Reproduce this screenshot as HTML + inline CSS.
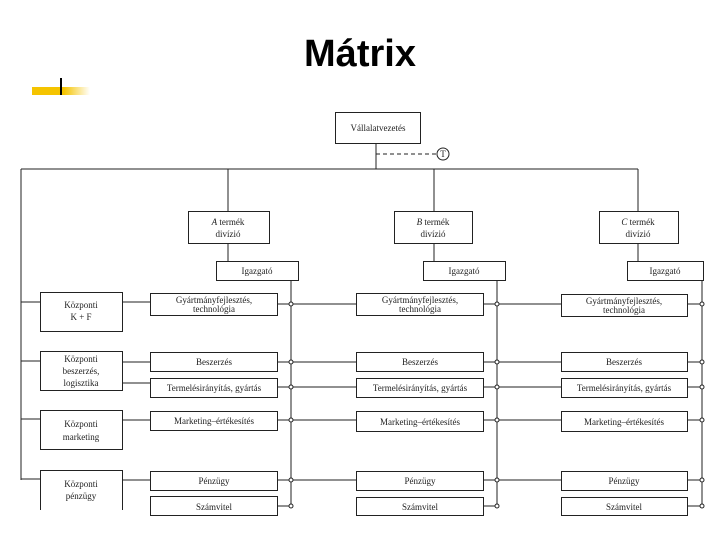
<!DOCTYPE html>
<html><head><meta charset="utf-8"><style>
html,body{margin:0;padding:0;background:#fff;}
svg{display:block}
.t{font-family:"Liberation Serif",serif;font-size:9px;fill:#222;text-anchor:middle}
</style></head><body>
<svg width="720" height="540" viewBox="0 0 720 540" xmlns="http://www.w3.org/2000/svg">
<defs><linearGradient id="g" x1="0" x2="1"><stop offset="0.55" stop-color="#f5c400"/><stop offset="1" stop-color="#f5c400" stop-opacity="0"/></linearGradient></defs>
<text x="360" y="66" text-anchor="middle" font-family="Liberation Sans,sans-serif" font-weight="bold" font-size="38" fill="#000">Mátrix</text>
<rect x="32" y="87" width="58" height="8" fill="url(#g)"/>
<rect x="60" y="78" width="2" height="17" fill="#000"/>
<g stroke="#222" stroke-width="1" fill="none">
<rect x="335.5" y="112.5" width="85" height="31"/>
<line x1="376" y1="143" x2="376" y2="169"/>
<line x1="376" y1="154" x2="436" y2="154" stroke-dasharray="4,3"/>
<circle cx="443" cy="154" r="6"/>
<line x1="21" y1="169" x2="638" y2="169"/>
<line x1="21" y1="169" x2="21" y2="480"/>
<line x1="228" y1="169" x2="228" y2="211"/><line x1="228" y1="243" x2="228" y2="261"/>
<line x1="434" y1="169" x2="434" y2="211"/><line x1="434" y1="243" x2="434" y2="261"/>
<line x1="638" y1="169" x2="638" y2="211"/><line x1="638" y1="243" x2="638" y2="261"/>
<rect x="188.5" y="211.5" width="81" height="32"/>
<rect x="394.5" y="211.5" width="78" height="32"/>
<rect x="599.5" y="211.5" width="79" height="32"/>
<rect x="216.5" y="261.5" width="82" height="19"/>
<rect x="423.5" y="261.5" width="82" height="19"/>
<rect x="627.5" y="261.5" width="76" height="19"/>
<line x1="291" y1="280" x2="291" y2="506"/>
<line x1="497" y1="280" x2="497" y2="506"/>
<line x1="702" y1="280" x2="702" y2="506"/>
<rect x="40.5" y="292.5" width="82" height="39"/>
<rect x="40.5" y="351.5" width="82" height="39"/>
<rect x="40.5" y="410.5" width="82" height="39"/>
<path d="M40.5 510 V470.5 H122.5 V510"/>
<line x1="21" y1="302" x2="40" y2="302"/>
<line x1="21" y1="361" x2="40" y2="361"/>
<line x1="21" y1="419" x2="40" y2="419"/>
<line x1="21" y1="479" x2="40" y2="479"/>
<line x1="122" y1="302" x2="150" y2="302"/>
<line x1="122" y1="362" x2="150" y2="362"/>
<line x1="122" y1="383" x2="150" y2="383"/>
<line x1="122" y1="420" x2="150" y2="420"/>
<line x1="122" y1="480" x2="150" y2="480"/>
<g>
<rect x="150.5" y="293.5" width="127" height="22"/><rect x="356.5" y="293.5" width="127" height="22"/><rect x="561.5" y="294.5" width="126" height="22"/>
<rect x="150.5" y="352.5" width="127" height="19"/><rect x="356.5" y="352.5" width="127" height="19"/><rect x="561.5" y="352.5" width="126" height="19"/>
<rect x="150.5" y="378.5" width="127" height="19"/><rect x="356.5" y="378.5" width="127" height="19"/><rect x="561.5" y="378.5" width="126" height="19"/>
<rect x="150.5" y="411.5" width="127" height="19"/><rect x="356.5" y="411.5" width="127" height="20"/><rect x="561.5" y="411.5" width="126" height="20"/>
<rect x="150.5" y="471.5" width="127" height="19"/><rect x="356.5" y="471.5" width="127" height="19"/><rect x="561.5" y="471.5" width="126" height="19"/>
<rect x="150.5" y="496.5" width="127" height="19"/><rect x="356.5" y="497.5" width="127" height="18"/><rect x="561.5" y="497.5" width="126" height="18"/>
</g>
<g>
<path d="M277 304H356 M484 304H561 M687 304H702"/>
<path d="M277 362H356 M484 362H561 M687 362H702"/>
<path d="M277 387H356 M484 387H561 M687 387H702"/>
<path d="M277 420H356 M484 420H561 M687 420H702"/>
<path d="M277 480H356 M484 480H561 M687 480H702"/>
<path d="M277 506H291 M484 506H497 M687 506H702"/>
</g>
<g fill="#fff">
<circle cx="291" cy="304" r="2"/><circle cx="497" cy="304" r="2"/><circle cx="702" cy="304" r="2"/>
<circle cx="291" cy="362" r="2"/><circle cx="497" cy="362" r="2"/><circle cx="702" cy="362" r="2"/>
<circle cx="291" cy="387" r="2"/><circle cx="497" cy="387" r="2"/><circle cx="702" cy="387" r="2"/>
<circle cx="291" cy="420" r="2"/><circle cx="497" cy="420" r="2"/><circle cx="702" cy="420" r="2"/>
<circle cx="291" cy="480" r="2"/><circle cx="497" cy="480" r="2"/><circle cx="702" cy="480" r="2"/>
<circle cx="291" cy="506" r="2"/><circle cx="497" cy="506" r="2"/><circle cx="702" cy="506" r="2"/>
</g>
</g>
<text class="t" x="443" y="157" font-size="8">T</text>
<text class="t" x="378" y="131">Vállalatvezetés</text>
<text class="t" x="228" y="225"><tspan font-style="italic">A</tspan> termék</text><text class="t" x="228" y="237">divízió</text>
<text class="t" x="433" y="225"><tspan font-style="italic">B</tspan> termék</text><text class="t" x="433" y="237">divízió</text>
<text class="t" x="638" y="225"><tspan font-style="italic">C</tspan> termék</text><text class="t" x="638" y="237">divízió</text>
<text class="t" x="257" y="274">Igazgató</text><text class="t" x="464" y="274">Igazgató</text><text class="t" x="665" y="274">Igazgató</text>
<text class="t" x="81" y="308">Központi</text><text class="t" x="81" y="320">K + F</text>
<text class="t" x="81" y="362">Központi</text><text class="t" x="81" y="374">beszerzés,</text><text class="t" x="81" y="386">logisztika</text>
<text class="t" x="81" y="427">Központi</text><text class="t" x="81" y="440">marketing</text>
<text class="t" x="81" y="487">Központi</text><text class="t" x="81" y="499">pénzügy</text>
<g>
<text class="t" x="214" y="303">Gyártmányfejlesztés,</text><text class="t" x="214" y="312">technológia</text>
<text class="t" x="420" y="303">Gyártmányfejlesztés,</text><text class="t" x="420" y="312">technológia</text>
<text class="t" x="624" y="304">Gyártmányfejlesztés,</text><text class="t" x="624" y="313">technológia</text>
<text class="t" x="214" y="365">Beszerzés</text><text class="t" x="420" y="365">Beszerzés</text><text class="t" x="624" y="365">Beszerzés</text>
<text class="t" x="214" y="391">Termelésirányítás, gyártás</text><text class="t" x="420" y="391">Termelésirányítás, gyártás</text><text class="t" x="624" y="391">Termelésirányítás, gyártás</text>
<text class="t" x="214" y="424">Marketing–értékesítés</text><text class="t" x="420" y="425">Marketing–értékesítés</text><text class="t" x="624" y="425">Marketing–értékesítés</text>
<text class="t" x="214" y="484">Pénzügy</text><text class="t" x="420" y="484">Pénzügy</text><text class="t" x="624" y="484">Pénzügy</text>
<text class="t" x="214" y="510">Számvitel</text><text class="t" x="420" y="510">Számvitel</text><text class="t" x="624" y="510">Számvitel</text>
</g>
</svg>
</body></html>
